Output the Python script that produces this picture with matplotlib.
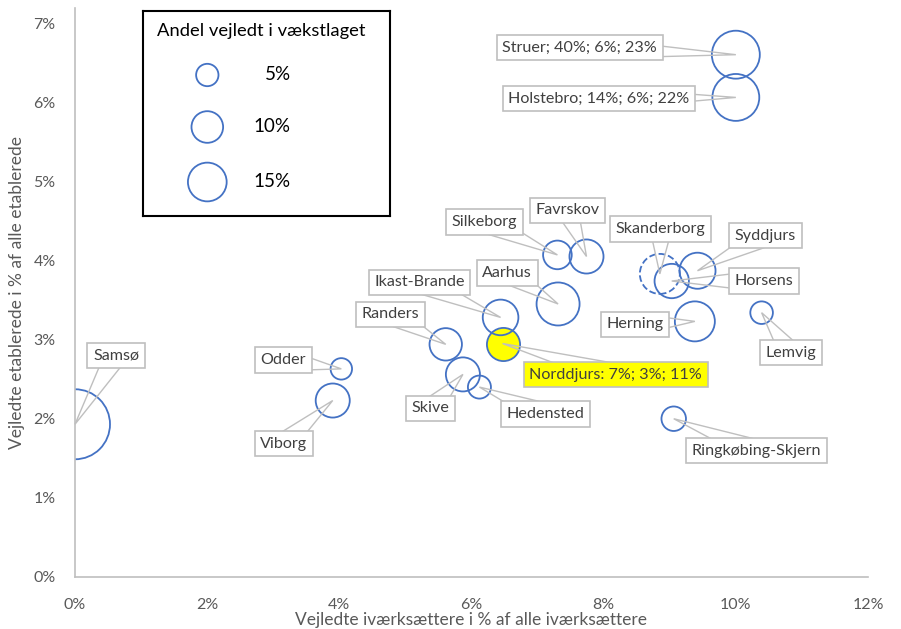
import matplotlib.pyplot as plt
from matplotlib.patches import Polygon
from matplotlib.transforms import IdentityTransform
import numpy as np

plt.rcParams['font.family'] = ['Lato', 'DejaVu Sans']

# Data: x = vejledte ivaerksaettere (%), y = vejledte etablerede (%), size = andel vejledt i vaekstlaget (%)
names = ['Samsø', 'Odder', 'Viborg', 'Randers', 'Skive', 'Hedensted', 'Norddjurs',
         'Ikast-Brande', 'Aarhus', 'Silkeborg', 'Favrskov', 'Skanderborg', 'Horsens',
         'Syddjurs', 'Herning', 'Lemvig', 'Ringkøbing-Skjern', 'Struer', 'Holstebro']
x_vals = [0.0, 4.03, 3.90, 5.61, 5.87, 6.12, 6.47,
          6.44, 7.31, 7.30, 7.74, 8.85, 9.03,
          9.42, 9.38, 10.39, 9.06, 10.0, 10.0]
y_vals = [1.93, 2.63, 2.23, 2.94, 2.56, 2.40, 2.95,
          3.28, 3.45, 4.07, 4.05, 3.83, 3.74,
          3.87, 3.23, 3.34, 2.00, 6.60, 6.06]
sizes = [49, 4.6, 11.6, 10.5, 11.6, 5.3, 11,
         12.7, 18.5, 8.2, 11.6, 16, 11.8,
         13, 16, 5.1, 6, 23, 22]
label_texts = {'Struer': 'Struer; 40%; 6%; 23%',
               'Holstebro': 'Holstebro; 14%; 6%; 22%',
               'Norddjurs': 'Norddjurs: 7%; 3%; 11%'}
legend_sizes = [5, 10, 15]

# label offsets (pixels) from each bubble centre
label_offsets = {
    'Samsø': (41, 69), 'Odder': (-58, 9), 'Viborg': (-49, -43), 'Randers': (-55, 30),
    'Skive': (-32, -34), 'Hedensted': (66, -27), 'Norddjurs': (113, -31),
    'Ikast-Brande': (-81, 35), 'Aarhus': (-51, 31), 'Silkeborg': (-73, 33),
    'Favrskov': (-19, 46), 'Skanderborg': (1, 45), 'Horsens': (92, 0),
    'Syddjurs': (68, 35), 'Herning': (-60, -3), 'Lemvig': (29, -40),
    'Ringkøbing-Skjern': (83, -32), 'Struer': (-156, 7), 'Holstebro': (-137, -1)}

BLUE = '#4472C4'
GREY_TXT = '#595959'
GREY_LINE = '#BFBFBF'
SCALE = 51.84  # points^2 per size-%

fig = plt.figure(figsize=(9.01, 6.29), dpi=100)
ax = fig.add_axes([75 / 901, 52 / 629, 793 / 901, 569 / 629])

ax.set_xlim(0, 12)
ax.set_ylim(0, 7.19)

for i, name in enumerate(names):
    fc = '#FFFF00' if name == 'Norddjurs' else 'none'
    ls = '--' if name == 'Skanderborg' else '-'
    ax.scatter(x_vals[i], y_vals[i], s=sizes[i] * SCALE, facecolors=fc,
               edgecolors=BLUE, linewidths=1.3, linestyles=ls, zorder=2)

# callout labels: wedge from box centre to bubble centre, box drawn on top
half_w = 11
for i, name in enumerate(names):
    px, py = ax.transData.transform((x_vals[i], y_vals[i]))
    dx, dy = label_offsets[name]
    L = np.hypot(dx, dy)
    nx, ny = -dy / L * half_w, dx / L * half_w
    tri = Polygon([(px, py), (px + dx + nx, py + dy + ny), (px + dx - nx, py + dy - ny)],
                  closed=True, fc='none', ec=GREY_LINE, lw=1.0,
                  transform=IdentityTransform(), zorder=3, clip_on=False)
    ax.add_patch(tri)
    txt = label_texts.get(name, name)
    hl = name == 'Norddjurs'
    ax.annotate(txt, xy=(x_vals[i], y_vals[i]), xytext=(dx, dy),
                textcoords='offset pixels', ha='center', va='center',
                fontsize=11.6, color='#404040',
                bbox=dict(boxstyle='square,pad=0.35', fc='#FFFF00' if hl else 'white',
                          ec=GREY_LINE, lw=1.2),
                zorder=4, annotation_clip=False)

ax.set_xticks(np.arange(0, 13, 2))
ax.set_yticks(np.arange(0, 8, 1))
ax.set_xticklabels([f'{v}%' for v in range(0, 13, 2)])
ax.set_yticklabels([f'{v}%' for v in range(0, 8)])
ax.tick_params(length=0, labelsize=11.5, labelcolor=GREY_TXT)
ax.tick_params(axis='x', pad=15)
ax.tick_params(axis='y', pad=14)
for s in ['top', 'right']:
    ax.spines[s].set_visible(False)
for s in ['left', 'bottom']:
    ax.spines[s].set_color(GREY_LINE)
    ax.spines[s].set_linewidth(1.2)
ax.set_xlabel('Vejledte iværksættere i % af alle iværksættere', fontsize=12.5,
              color=GREY_TXT, labelpad=0)
ax.set_ylabel('Vejledte etablerede i % af alle etablerede', fontsize=12.5,
              color=GREY_TXT, labelpad=6)

# size legend box
lax = fig.add_axes([142.7 / 901, (629 - 216) / 629, 247.3 / 901, 205 / 629])
lax.set_xlim(0, 247.3)
lax.set_ylim(205, 0)
lax.set_xticks([])
lax.set_yticks([])
for s in lax.spines.values():
    s.set_color('black')
    s.set_linewidth(1.5)
lax.text(14, 20, 'Andel vejledt i vækstlaget', fontsize=13.2, color='black',
         ha='left', va='center')
for v, yy in zip(legend_sizes, [64, 116, 171]):
    lax.scatter(64.6, yy, s=v * SCALE, facecolors='none', edgecolors=BLUE, linewidths=1.3)
    lax.text(148, yy, f'{v}%', fontsize=13.5, color='black', ha='right', va='center')

fig.savefig('out.png', dpi=100)
